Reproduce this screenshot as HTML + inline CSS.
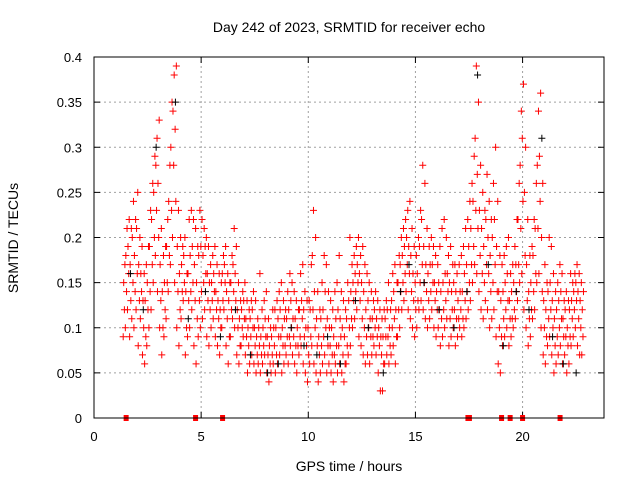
<!DOCTYPE html>
<html><head><meta charset="utf-8"><style>
html,body{margin:0;padding:0;background:#fff;}
svg{display:block;font-family:"Liberation Sans",sans-serif;}
</style></head><body>
<svg id="chart" width="640" height="480" viewBox="0 0 640 480">
<rect width="640" height="480" fill="#fff"/>
<text x="349" y="32" font-size="14" text-anchor="middle">Day 242 of 2023, SRMTID for receiver echo</text>
<text x="349" y="471" font-size="14" text-anchor="middle">GPS time / hours</text>
<text x="18" y="238" font-size="14" text-anchor="middle" transform="rotate(-90 18 238)">SRMTID / TECUs</text>
<g id="grid"></g>
<g id="ticks"></g>
<g id="marks"></g>
<rect x="94" y="57" width="510" height="361" fill="none" stroke="#000" stroke-width="1"/>
</svg>
<script>
const xTicks=[0,5,10,15,20];
const yTicks=[0,0.05,0.1,0.15,0.2,0.25,0.3,0.35,0.4];
const yTickLabels=["0","0.05","0.1","0.15","0.2","0.25","0.3","0.35","0.4"];
const redHours=[1.4,1.5,1.6,1.7,1.8,1.9,2.0,2.1,2.2,2.3,2.4,2.5,2.6,2.7,2.8,2.9,3.0,3.1,3.2,3.3,3.4,3.5,3.6,3.7,3.8,3.9,4.0,4.1,4.2,4.3,4.4,4.5,4.6,4.7,4.8,4.9,5.0,5.1,5.2,5.3,5.4,5.5,5.6,5.7,5.8,5.9,6.0,6.1,6.2,6.3,6.4,6.5,6.6,6.7,6.8,6.9,7.0,7.1,7.2,7.3,7.4,7.5,7.6,7.7,7.8,7.9,8.0,8.1,8.2,8.3,8.4,8.5,8.6,8.7,8.8,8.9,9.0,9.1,9.2,9.3,9.4,9.5,9.6,9.7,9.8,9.9,10.0,10.1,10.2,10.3,10.4,10.5,10.6,10.7,10.8,10.9,11.0,11.1,11.2,11.3,11.4,11.5,11.6,11.7,11.8,11.9,12.0,12.1,12.2,12.3,12.4,12.5,12.6,12.7,12.8,12.9,13.0,13.1,13.2,13.3,13.4,13.5,13.6,13.7,13.8,13.9,14.0,14.1,14.2,14.3,14.4,14.5,14.6,14.7,14.8,14.9,15.0,15.1,15.2,15.3,15.4,15.5,15.6,15.7,15.8,15.9,16.0,16.1,16.2,16.3,16.4,16.5,16.6,16.7,16.8,16.9,17.0,17.1,17.2,17.3,17.4,17.5,17.6,17.7,17.8,17.9,18.0,18.1,18.2,18.3,18.4,18.5,18.6,18.7,18.8,18.9,19.0,19.1,19.2,19.3,19.4,19.5,19.6,19.7,19.8,19.9,20.0,20.1,20.2,20.3,20.4,20.5,20.6,20.7,20.8,20.9,21.0,21.1,21.2,21.3,21.4,21.5,21.6,21.7,21.8,21.9,22.0,22.1,22.2,22.3,22.4,22.5,22.6,22.7,22.8];
const redVals=[[9,12,15,17],[10,14,18,21],[12,16,19,22],[9,13,17,21],[11,15,20,24],[10,14,18,22],[12,16,21,25],[8,13,17,20],[11,14,16,19],[7,10,13,16],[6,9,13,17],[8,12,15,19],[10,14,19,23],[12,17,22,26],[15,20,25,29],[18,23,28,31],[14,20,26,33],[10,13,17,21],[7,10,14,18],[9,12,15,19],[11,15,19,22],[14,18,24,28],[17,23,30,35],[20,28,34,38],[15,24,32,39],[10,14,19,23],[8,12,16,20],[11,14,17,19],[13,15,18,20],[7,10,14,16],[9,13,16,22],[10,14,18,23],[12,15,19,22],[8,13,17,21],[6,11,15,19],[9,13,18,23],[10,14,19,22],[11,15,18,21],[12,16,19,20],[9,13,16,19],[8,12,15,17],[10,13,15,18],[11,14,16,19],[9,12,14,17],[8,11,13,16],[7,10,12,15],[10,13,16,18],[12,15,17,19],[8,11,14,16],[6,9,13,15],[9,12,15,18],[11,14,17,21],[10,13,16,19],[7,10,12,15],[6,8,11,13],[8,10,12,14],[9,11,13,15],[7,9,11,13],[5,8,10,12],[6,9,11,13],[7,10,12,14],[6,8,10,13],[5,7,9,11],[6,8,10,16],[5,7,9,12],[6,8,10,13],[7,9,11,14],[5,7,9,11],[4,6,8,10],[5,7,9,12],[6,8,10,12],[5,7,10,13],[6,9,11,14],[7,9,12,15],[5,8,10,13],[6,8,11,12],[7,9,11,14],[6,9,12,16],[8,10,13,15],[7,9,11,14],[6,8,11,13],[5,8,10,12],[7,9,12,16],[8,11,13,17],[6,9,12,14],[5,8,10,13],[4,7,10,13],[6,9,12,17],[8,12,18,23],[6,10,14,20],[5,8,11,14],[4,7,9,12],[5,8,11,15],[6,9,12,18],[7,10,14,17],[5,8,11,14],[6,8,10,13],[5,7,10,12],[4,7,9,14],[6,8,11,15],[5,8,12,18],[6,9,11,14],[5,7,10,13],[4,6,9,12],[6,8,11,15],[7,10,13,20],[8,11,14,17],[10,13,15,18],[11,14,16,19],[12,15,17,20],[9,13,16,18],[8,11,15,19],[7,10,14,17],[6,9,12,16],[7,10,13,15],[6,9,11,14],[7,9,11,13],[8,10,12,14],[7,9,11,13],[5,8,10,12],[3,7,9,11],[3,6,9,12],[6,9,11,13],[7,9,12,15],[6,8,10,12],[7,10,13,16],[8,11,14,17],[6,9,12,15],[9,12,15,18],[10,14,17,20],[12,15,18,21],[13,16,19,22],[14,17,20,23],[12,16,19,24],[11,14,18,21],[10,13,16,19],[9,12,15,18],[10,13,16,20],[12,15,19,23],[13,17,22,28],[12,15,19,26],[11,14,17,21],[10,13,16,19],[11,14,17,20],[12,15,17,19],[10,13,15,18],[9,12,14,17],[10,12,15,19],[8,11,14,21],[9,12,15,22],[10,13,16,20],[11,14,16,18],[8,11,15,19],[9,12,14,17],[10,12,15,17],[8,11,14,16],[9,11,13,17],[10,12,14,18],[9,11,14,19],[10,13,16,21],[11,14,17,22],[12,15,19,24],[13,17,21,26],[15,19,24,29],[17,23,31,39],[16,21,27,35],[14,18,23,28],[12,16,21,25],[11,15,19,23],[13,17,22,27],[12,16,20,24],[10,14,18,22],[11,15,20,26],[12,17,22,30],[9,14,19,24],[6,10,14,18],[5,9,13,17],[8,11,14,18],[9,12,15,19],[10,13,16,20],[8,11,13,16],[9,11,14,17],[10,12,15,19],[11,14,17,22],[13,17,22,26],[15,21,28,34],[16,24,31,37],[12,18,25,30],[10,13,17,22],[8,11,14,18],[9,12,15,19],[11,14,18,22],[12,16,21,26],[15,21,28,34],[16,24,29,36],[10,14,20,26],[7,10,13,17],[6,9,12,15],[8,11,14,20],[9,12,15,19],[7,10,13,16],[5,8,11,14],[6,9,12,15],[7,10,13,17],[8,11,14,16],[6,9,11,13],[7,9,12,14],[5,8,10,13],[6,9,12,16],[8,11,13,15],[9,12,14,16],[10,13,15,17],[8,11,14,16],[7,10,13,15],[7,9,12,14]];
const blackHours=[1.7,2.3,2.9,3.8,4.4,5.2,5.9,6.6,7.3,8.1,8.6,9.2,9.8,10.4,10.9,11.5,12.2,12.8,13.5,14.3,14.7,15.4,16.1,16.8,17.4,17.9,18.4,19.1,19.7,20.3,20.9,21.4,21.9,22.5];
const blackVals=[0.16,0.12,0.30,0.35,0.11,0.14,0.09,0.12,0.07,0.05,0.06,0.10,0.08,0.07,0.09,0.06,0.13,0.10,0.05,0.14,0.17,0.15,0.12,0.10,0.14,0.38,0.17,0.08,0.14,0.12,0.31,0.09,0.06,0.05];
const zeroHours=[1.5,4.74,6.0,17.45,17.52,19.02,19.42,20.0,21.75];

const X0=94,X1=604,Y0=418,Y1=57,XMAX=23.8,YMAX=0.4;
function xs(h){return X0+(X1-X0)*h/XMAX;}
function ys(v){return Y0-(Y0-Y1)*v/YMAX;}
const NS="http://www.w3.org/2000/svg";
function mk(tag,attrs,parent){const e=document.createElementNS(NS,tag);for(const k in attrs)e.setAttribute(k,attrs[k]);parent.appendChild(e);return e;}
const grid=document.getElementById('grid'),ticks=document.getElementById('ticks'),marks=document.getElementById('marks');
xTicks.forEach((t,i)=>{
  const x=xs(t);
  if(t>0){const g=mk('line',{x1:x,x2:x,y1:Y0,y2:Y1,stroke:'#a0a0a0','stroke-dasharray':'2,3'},grid);
  
  }
  const tk=mk('path',{d:`M${x},${Y0}v-6M${x},${Y1}v6`,stroke:'#000'},ticks);
  
  
  const tx=mk('text',{x:x,y:Y0+23,'font-size':13,'text-anchor':'middle'},ticks);tx.textContent=String(t);
  
  
});
yTicks.forEach((t,i)=>{
  const y=ys(t);
  if(t>0&&t<YMAX){const g=mk('line',{x1:X0,x2:X1,y1:y,y2:y,stroke:'#a0a0a0','stroke-dasharray':'2,3'},grid);
  
  }
  const tk=mk('path',{d:`M${X0},${y}h6M${X1},${y}h-6`,stroke:'#000'},ticks);
  
  
  const tx=mk('text',{x:X0-12,y:y+5,'font-size':13,'text-anchor':'end'},ticks);tx.textContent=yTickLabels[i];
  
  
});
function cross(h,v,color,name,dx){
  const x=xs(h)+dx,y=ys(v);
  const p=mk('path',{d:`M${x-3.5},${y}h7M${x},${y-3.5}v7`,stroke:color,'stroke-width':1},marks);
  
  
}
const stagger=[-0.8,0.4,-0.3,0.9];
redHours.forEach((h,i)=>{redVals[i].forEach((v,k)=>cross(h,v/100,'#ff0000','red-point',stagger[k]));});
blackHours.forEach((h,i)=>cross(h,blackVals[i],'#000000','black-point',0));
zeroHours.forEach(h=>{
  const r=mk('rect',{x:xs(h)-2.5,y:Y0-3,width:5,height:6,fill:'#ff0000'},marks);
  
  
});
</script>
</body></html>
